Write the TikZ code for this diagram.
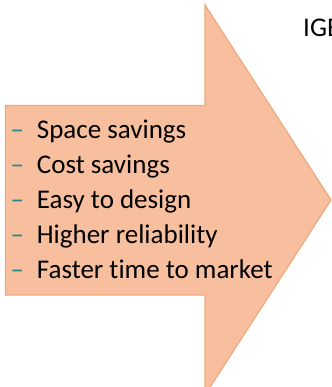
\documentclass[tikz,border=0pt]{standalone}
\usepackage{fontspec}
\setmainfont{Carlito}[Ligatures=NoCommon]
\usepackage{xcolor}
\usepackage{tikz}
\usetikzlibrary{positioning,calc}
\definecolor{peach}{RGB}{248,191,159}
\definecolor{peachline}{RGB}{238,168,128}
\definecolor{dashteal}{RGB}{28,138,138}

\begin{document}
\begin{tikzpicture}[
  x=1pt, y=-1pt,
  bigarrow/.style={fill=peach, draw=peachline, line width=1.2pt, line join=miter},
  item/.style={anchor=base west, inner sep=0pt, font=\fontsize{27}{31}\selectfont, text=black},
  bullet/.style={anchor=base west, inner sep=0pt, font=\fontsize{27}{31}\selectfont, text=dashteal}]
\useasboundingbox (0,0) rectangle (331,387);
\clip (0,0) rectangle (331,387);
% big arrow
\draw[bigarrow] (5.5,105.5) -- (205,105.5) -- (205,5) -- (331,200) -- (205,395)
  -- (205,295) -- (5.5,295) -- cycle;
% list of benefits
\foreach \txt [count=\i] in {Space savings, Cost savings, Easy to design, Higher reliability, Faster time to market}{
  \node[bullet] (dash\i) at (10.5,{139+34.8*(\i-1)}) {–};
  \node[item] (item\i) at (36.7,{139+34.8*(\i-1)}) {\txt};
}
% cut-off title
\node[item] (title) at (303,36.7) {IGBT};
\end{tikzpicture}
\end{document}
